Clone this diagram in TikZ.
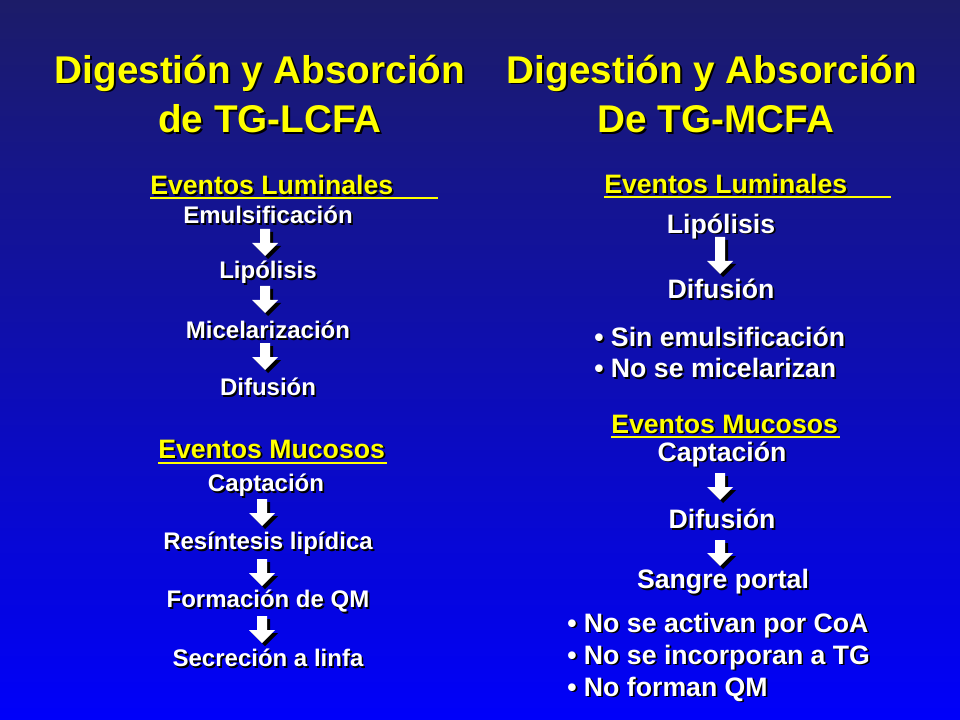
\documentclass[tikz,border=0pt]{standalone}
\usepackage{fontspec}
\setmainfont{Liberation Sans}
\definecolor{ttl}{RGB}{255,255,0}
\definecolor{bgtop}{RGB}{28,28,104}
\definecolor{bgbot}{RGB}{0,0,250}
\newcommand\shd[1]{\leavevmode\rlap{\kern1.3pt\raisebox{-1.3pt}{\color{black}#1}}#1}
\tikzset{
 txt/.style={text=white,font=\bfseries\fontsize{18}{20}\selectfont,inner sep=0pt,anchor=center,yshift=-1.5pt},
 big/.style={txt,font=\bfseries\fontsize{20}{22}\selectfont},
 sub/.style={big,text=ttl},
 ttlst/.style={text=ttl,font=\bfseries\fontsize{29}{32}\selectfont,inner sep=0pt,yshift=-1.5pt},
 uline/.style={ttl,line width=1.5pt},
}
\newcommand\downarr[3]{% x, ytop, ybot
 \foreach \c/\o in {black/3,white/0}{
 \fill[\c,shift={(\o,\o)}] (#1-5,#2) -- (#1+5,#2) -- (#1+5,#3-13) -- (#1+13,#3-13) -- (#1,#3) -- (#1-13,#3-13) -- (#1-5,#3-13) -- cycle;}}
\begin{document}
\begin{tikzpicture}[x=0.75pt,y=-0.75pt]
\shade[top color=bgtop,bottom color=bgbot] (0,0) rectangle (960,720);
\useasboundingbox (0,0) rectangle (960,720);
% titles
\node[ttlst] (t1a) at (260,72) {\shd{Digestión y Absorción}};
\node[ttlst] (t1b) at (270,118) {\shd{de TG-LCFA}};
\node[ttlst] (t2a) at (712,72) {\shd{Digestión y Absorción}};
\node[ttlst] (t2b) at (716,118) {\shd{De TG-MCFA}};
% left luminal
\node[sub,anchor=west] (l1) at (150,184) {\shd{Eventos Luminales}};
\draw[uline] (150,198) -- (438,198);
\node[txt] (a1) at (268,214) {\shd{Emulsificación}};
\node[txt] (a2) at (268,271) {\shd{Lipólisis}};
\node[txt] (a3) at (268,329) {\shd{Micelarización}};
\node[txt] (a4) at (268,386) {\shd{Difusión}};
\downarr{265}{229}{256}
\downarr{265}{286}{313}
\downarr{265}{343}{370}
% left mucosal
\node[sub,anchor=west] (l2) at (158,448) {\shd{Eventos Mucosos}};
\draw[uline] (158,463) -- (387,463);
\node[txt] (b1) at (266,484) {\shd{Captación}};
\node[txt] (b2) at (268,542) {\shd{Resíntesis lipídica}};
\node[txt] (b3) at (268,600) {\shd{Formación de QM}};
\node[txt] (b4) at (268,657) {\shd{Secreción a linfa}};
\downarr{262}{499}{526}
\downarr{262}{559}{586}
\downarr{262}{616}{643}
% right luminal
\node[sub,anchor=west] (r1) at (604,183) {\shd{Eventos Luminales}};
\draw[uline] (604,197) -- (891,197);
\node[big] (c1) at (721,225) {\shd{Lipólisis}};
\node[big] (c2) at (721,288) {\shd{Difusión}};
\downarr{720}{237}{274}
\node[big,anchor=west] (c3) at (594,336) {\shd{• Sin emulsificación}};
\node[big,anchor=west] (c4) at (594,367) {\shd{• No se micelarizan}};
% right mucosal
\node[sub,anchor=west] (r2) at (611,423) {\shd{Eventos Mucosos}};
\draw[uline] (611,437) -- (840,437);
\node[big] (d1) at (722,453) {\shd{Captación}};
\node[big] (d2) at (722,518) {\shd{Difusión}};
\node[big] (d3) at (723,581) {\shd{Sangre portal}};
\downarr{720}{473}{500}
\downarr{720}{540}{566}
\node[big,anchor=west] (e1) at (567,624) {\shd{• No se activan por CoA}};
\node[big,anchor=west] (e2) at (567,656) {\shd{• No se incorporan a TG}};
\node[big,anchor=west] (e3) at (567,688) {\shd{• No forman QM}};
\end{tikzpicture}
\end{document}
